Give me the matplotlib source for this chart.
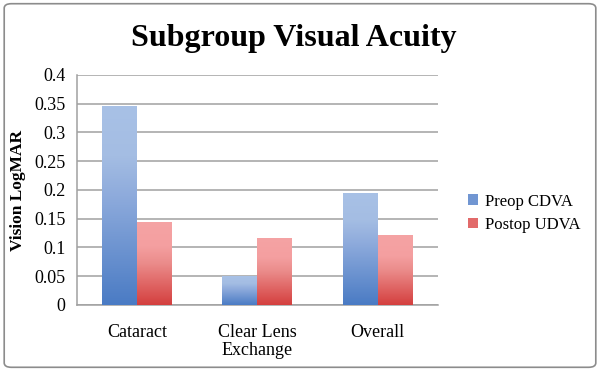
import numpy as np
import matplotlib
matplotlib.use('Agg')
import matplotlib.pyplot as plt
from matplotlib.patches import FancyBboxPatch, Patch
from matplotlib.colors import LinearSegmentedColormap

categories = ['Cataract', 'Clear Lens\nExchange', 'Overall']
preop_cdva = [0.346, 0.05, 0.195]
postop_udva = [0.145, 0.117, 0.121]
series_names = ['Preop CDVA', 'Postop UDVA']
yticks = [0, 0.05, 0.1, 0.15, 0.2, 0.25, 0.3, 0.35, 0.4]
ytick_labels = ['0', '0.05', '0.1', '0.15', '0.2', '0.25', '0.3', '0.35', '0.4']

plt.rcParams['font.family'] = ['Liberation Serif', 'DejaVu Serif']

blue_cmap = LinearSegmentedColormap.from_list(
    'b', [(0, '#4a7bc4'), (0.55, '#8eabdc'), (0.75, '#a4bde3'), (1, '#a8c1e6')])
red_cmap = LinearSegmentedColormap.from_list(
    'r', [(0, '#d43f3e'), (0.5, '#eb8c8b'), (0.7, '#f49fa0'), (1, '#f5a3a4')])

fig = plt.figure(figsize=(6, 3.71), dpi=100)
ax = fig.add_axes([0.128, 0.178, 0.602, 0.62])

x = np.arange(len(categories))
w = 0.29
grad = np.linspace(0, 1, 256).reshape(-1, 1)


def gradient_bars(xs, vals, cmap):
    bars = ax.bar(xs, vals, w, color='none', edgecolor='none', zorder=3)
    for b in bars:
        x0, y0 = b.get_x(), b.get_y()
        im = ax.imshow(grad, cmap=cmap, origin='lower', aspect='auto',
                       extent=[x0, x0 + b.get_width(), y0, y0 + b.get_height()],
                       zorder=3)
        im.set_clip_path(b)
    return bars


gradient_bars(x - w / 2, preop_cdva, blue_cmap)
gradient_bars(x + w / 2, postop_udva, red_cmap)

ax.set_xlim(-0.5, 2.5)
ax.set_ylim(0, 0.4)
ax.set_yticks(yticks)
ax.set_yticklabels(ytick_labels, fontsize=13)
ax.set_xticks(x)
ax.set_xticklabels(categories, fontsize=13, linespacing=1.05, va='top')
ax.tick_params(axis='both', length=0)
ax.tick_params(axis='x', pad=14)
ax.tick_params(axis='y', pad=8)
ax.grid(axis='y', color='#a0a0a0', linewidth=1.1, zorder=0)
ax.set_axisbelow(True)
for s in ['top', 'right']:
    ax.spines[s].set_visible(False)
for s in ['left', 'bottom']:
    ax.spines[s].set_color('#a0a0a0')
    ax.spines[s].set_linewidth(1.1)

ax.set_ylabel('Vision LogMAR', fontsize=12.5, fontweight='bold', labelpad=6)
fig.text(0.49, 0.895, 'Subgroup Visual Acuity', ha='center', va='center',
         fontsize=23, fontweight='bold')

handles = [Patch(facecolor='#7196d2', edgecolor='none'),
           Patch(facecolor='#e26a6a', edgecolor='none')]
fig.legend(handles, series_names, loc='center left', bbox_to_anchor=(0.755, 0.425),
           frameon=False, fontsize=12, handlelength=0.6, handleheight=0.6,
           handletextpad=0.4, labelspacing=0.45)

border = FancyBboxPatch((0.007, 0.01), 0.986, 0.98, boxstyle='round,pad=0,rounding_size=0.012',
                        transform=fig.transFigure, facecolor='none',
                        edgecolor='#8c8c8c', linewidth=1.2)
fig.patches.append(border)

fig.savefig('out.png', dpi=100)
